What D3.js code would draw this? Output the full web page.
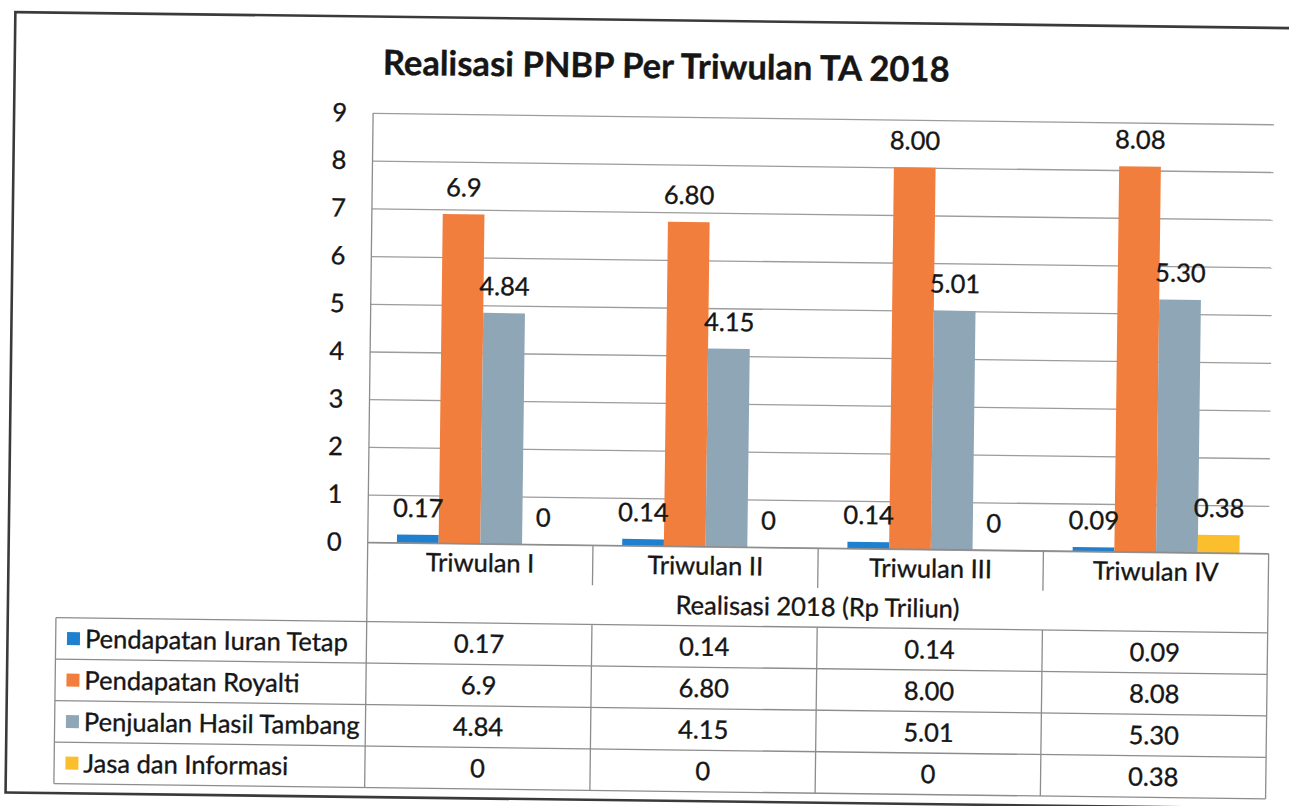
<!DOCTYPE html>
<html>
<head>
<meta charset="utf-8">
<script src="https://cdn.jsdelivr.net/npm/d3@7"></script>
<style>
  html, body { margin: 0; padding: 0; background: #ffffff; }
  svg { display: block; }
  text { font-family: Lato, "Open Sans", sans-serif; fill: #161616; stroke: #161616; stroke-width: 0.35px; }
</style>
</head>
<body>
<script>
// ---------------- data ----------------
const title = "Realisasi PNBP Per Triwulan TA 2018";
const axisTitle = "Realisasi 2018 (Rp Triliun)";
const categories = ["Triwulan I", "Triwulan II", "Triwulan III", "Triwulan IV"];
const seriesNames = ["Pendapatan Iuran Tetap", "Pendapatan Royalti", "Penjualan Hasil Tambang", "Jasa dan Informasi"];
const iuranTetap = [0.17, 0.14, 0.14, 0.09];
const royalti = [6.9, 6.80, 8.00, 8.08];
const penjualan = [4.84, 4.15, 5.01, 5.30];
const jasa = [0, 0, 0, 0.38];
const iuranTetapLabels = ["0.17", "0.14", "0.14", "0.09"];
const royaltiLabels = ["6.9", "6.80", "8.00", "8.08"];
const penjualanLabels = ["4.84", "4.15", "5.01", "5.30"];
const jasaLabels = ["0", "0", "0", "0.38"];
const yTicks = [0, 1, 2, 3, 4, 5, 6, 7, 8, 9];
const colors = ["#1f80d0", "#f27e3e", "#8ea6b6", "#fbbf2e"];

const seriesValues = [iuranTetap, royalti, penjualan, jasa];
const seriesLabels = [iuranTetapLabels, royaltiLabels, penjualanLabels, jasaLabels];
const series = seriesNames.map((name, i) => ({
  name, color: colors[i],
  values: categories.map((c, j) => ({ cat: c, v: seriesValues[i][j], label: seriesLabels[i][j] }))
}));

// ---------------- layout ----------------
const W = 1289, H = 806;
const plotL = 369.5, plotR = 1270.5, plotT = 116.4, plotB = 545.8;
const tableL = 58.7, tableTop = 625, rowH = 41.5;
const FS = 25.5;

const svg = d3.select("body").append("svg").attr("width", W).attr("height", H);
svg.append("rect").attr("width", W).attr("height", H).attr("fill", "#ffffff");
const g = svg.append("g").attr("transform", "rotate(0.72,644,403)");

// outer frame
g.append("rect").attr("x", 10.5).attr("y", 20).attr("width", 1420).attr("height", 780.5)
  .attr("fill", "none").attr("stroke", "#3a3a3a").attr("stroke-width", 2.6);

// title
g.append("text").attr("class", "title").attr("x", 662).attr("y", 78)
  .attr("text-anchor", "middle").attr("font-weight", 700).attr("font-size", 34.6)
  .text(title);

// scales
const y = d3.scaleLinear().domain([0, 9]).range([plotB, plotT]);
const x0 = d3.scaleBand().domain(categories).range([plotL, plotR]).padding(0);
const x1 = d3.scaleBand().domain(seriesNames).range([0, x0.bandwidth()]).paddingInner(0).paddingOuter(0.7);

// y axis with gridlines
const yAxis = g.append("g").attr("transform", `translate(${plotL},0)`)
  .call(d3.axisLeft(y).tickValues(yTicks).tickFormat(d3.format("d"))
    .tickSize(-(plotR - plotL)).tickPadding(26));
yAxis.select(".domain").remove();
yAxis.selectAll(".tick line").attr("stroke", "#9c9c9c").attr("stroke-width", 1.3);
yAxis.selectAll(".tick text").attr("font-size", FS).attr("font-family", "Lato, sans-serif").attr("fill", "#161616");

// bars
const groups = g.append("g").selectAll("g").data(series).join("g").attr("fill", d => d.color);
groups.selectAll("rect").data(d => d.values.map(v => ({ ...v, name: d.name }))).join("rect")
  .attr("x", d => x0(d.cat) + x1(d.name))
  .attr("width", x1.bandwidth())
  .attr("y", d => y(d.v))
  .attr("height", d => y(0) - y(d.v));

// data labels
const labels = g.append("g");
series.forEach(s => {
  labels.selectAll(null).data(s.values).join("text")
    .attr("x", d => x0(d.cat) + x1(s.name) + x1.bandwidth() / 2)
    .attr("y", d => y(d.v) - 27)
    .attr("dy", "0.36em")
    .attr("text-anchor", "middle").attr("font-size", FS)
    .text(d => d.label);
});

// table lines
const lineC = "#8c8c8c", lineW = 1.3;
const tl = g.append("g").attr("stroke", lineC).attr("stroke-width", lineW);
tl.append("line").attr("x1", plotL).attr("x2", plotR).attr("y1", y(0)).attr("y2", y(0));
tl.append("line").attr("x1", plotL).attr("x2", plotL).attr("y1", plotT).attr("y2", tableTop + rowH * 4);
tl.append("line").attr("x1", plotR).attr("x2", plotR).attr("y1", y(0)).attr("y2", tableTop + rowH * 4);
tl.append("line").attr("x1", tableL).attr("x2", tableL).attr("y1", tableTop).attr("y2", tableTop + rowH * 4);
d3.range(5).forEach(i => {
  tl.append("line").attr("x1", tableL).attr("x2", plotR)
    .attr("y1", tableTop + rowH * i).attr("y2", tableTop + rowH * i);
});
categories.slice(1).forEach(c => {
  tl.append("line").attr("x1", x0(c)).attr("x2", x0(c)).attr("y1", y(0)).attr("y2", y(0) + 40);
  tl.append("line").attr("x1", x0(c)).attr("x2", x0(c)).attr("y1", tableTop).attr("y2", tableTop + rowH * 4);
});

// category labels
g.append("g").selectAll("text").data(categories).join("text")
  .attr("x", d => x0(d) + x0.bandwidth() / 2)
  .attr("y", y(0) + 19).attr("dy", "0.36em")
  .attr("text-anchor", "middle").attr("font-size", FS)
  .text(d => d);

// axis title
g.append("text").attr("x", (plotL + plotR) / 2).attr("y", 604.5).attr("dy", "0.36em")
  .attr("text-anchor", "middle").attr("font-size", FS).text(axisTitle);

// legend + values rows
series.forEach((s, i) => {
  const cy = tableTop + rowH * i + rowH / 2;
  g.append("rect").attr("x", 70).attr("y", cy - 6.5).attr("width", 13).attr("height", 13).attr("fill", s.color);
  g.append("text").attr("x", 88).attr("y", cy).attr("dy", "0.36em").attr("font-size", FS).text(s.name);
  g.append("g").selectAll("text").data(s.values).join("text")
    .attr("x", d => x0(d.cat) + x0.bandwidth() / 2)
    .attr("y", cy).attr("dy", "0.36em")
    .attr("text-anchor", "middle").attr("font-size", FS)
    .text(d => d.label);
});
</script>
</body>
</html>
